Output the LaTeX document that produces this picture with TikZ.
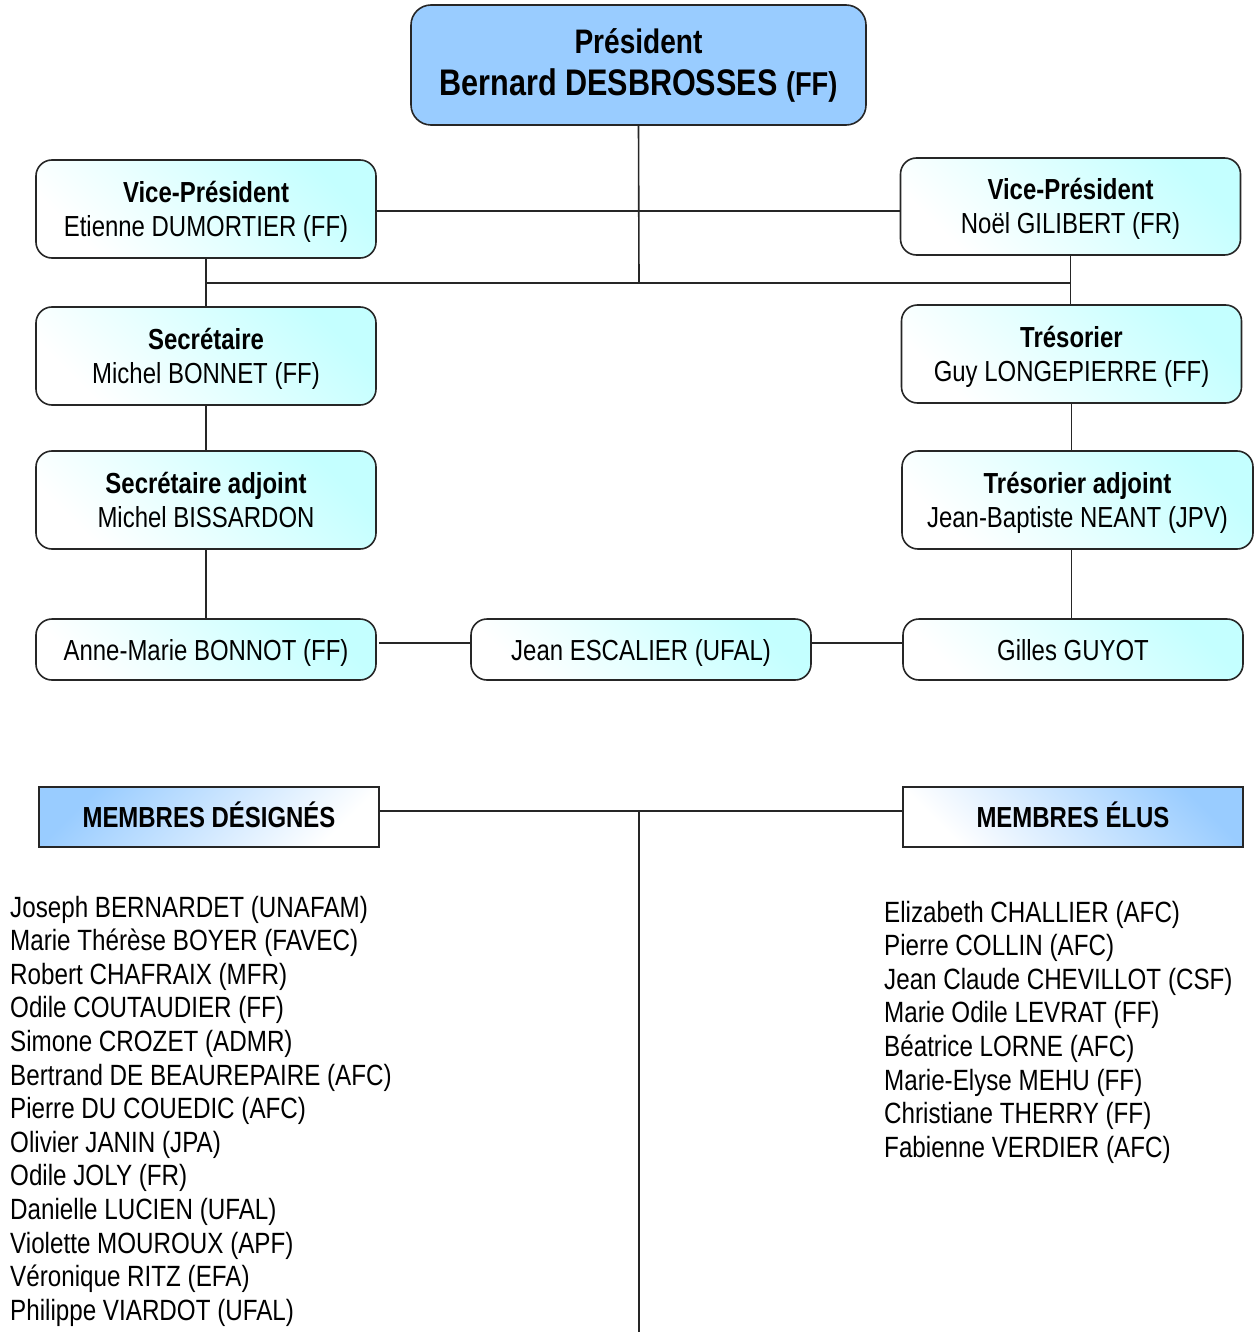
\documentclass[tikz,border=0pt]{standalone}
\usepackage{fontspec}
\setmainfont{Liberation Sans}[FakeStretch=0.826]
\definecolor{presblue}{HTML}{99CCFF}
\definecolor{lcyan}{HTML}{C4FFFF}
\definecolor{mblue}{HTML}{99CCFF}
\newcommand\twoline[2]{\vtop{\halign{\hfil##\hfil\cr\textbf{#1}\cr #2\cr}}}
\begin{document}
\begin{tikzpicture}[x=1pt,y=-1pt,
  box/.style={draw=black!85, line width=1.6pt, rounded corners=16pt, inner sep=0pt,
    minimum width=340pt, font=\fontsize{29}{34}\selectfont,
    top color=lcyan, bottom color=white, shading angle=-45},
  twobox/.style={box, minimum height=98pt, text height=21pt, text depth=34pt},
  onebox/.style={box, minimum height=61pt, text height=21pt, text depth=0pt},
  presbox/.style={draw=black!85, line width=1.6pt, rounded corners=20pt, inner sep=0pt,
    minimum width=455pt, minimum height=120pt, align=center, fill=presblue,
    font=\fontsize{37}{42}\selectfont\bfseries},
  mbox/.style={draw=black!85, line width=1.6pt, inner sep=0pt, minimum width=340pt,
    minimum height=60pt, font=\fontsize{29}{34}\selectfont\bfseries,
    text height=21pt, text depth=0pt, top color=mblue, bottom color=white},
  conn/.style={draw=black!85, line width=1.6pt},
  listtext/.style={anchor=base west, inner sep=0pt, font=\fontsize{29.3}{34}\selectfont}]
\useasboundingbox (0,0) rectangle (1254,1332);

\node[presbox] (pres) at (638.5,65) {{\fontsize{34}{42}\selectfont Président}\\Bernard DESBROSSES {\fontsize{33}{42}\selectfont (FF)}};

\node[twobox] (vpl) at (206,209) {\twoline{Vice-Président}{Etienne DUMORTIER (FF)}};
\node[twobox, minimum height=97pt] (vpr) at (1070.5,206.5) {\twoline{Vice-Président}{Noël GILIBERT (FR)}};
\node[twobox] (sec) at (206,356) {\twoline{Secrétaire}{Michel BONNET (FF)}};
\node[twobox] (tre) at (1071.5,354) {\twoline{Trésorier}{Guy LONGEPIERRE (FF)}};
\node[twobox] (seca) at (206,500) {\twoline{Secrétaire adjoint}{Michel BISSARDON}};
\node[twobox, minimum width=351pt] (trea) at (1077.5,500) {\twoline{Trésorier adjoint}{Jean-Baptiste NEANT (JPV)}};
\node[onebox] (am) at (206,649.5) {Anne-Marie BONNOT (FF)};
\node[onebox] (je) at (641,649.5) {Jean ESCALIER (UFAL)};
\node[onebox] (gg) at (1073,649.5) {Gilles GUYOT};
\node[mbox, shading angle=45] (md) at (209,817) {MEMBRES DÉSIGNÉS};
\node[mbox, shading angle=-45] (me) at (1073,817) {MEMBRES ÉLUS};

\coordinate (h1) at (639,211);
\coordinate (h2) at (639,283);
\coordinate (h3) at (639,643);
\coordinate (h4) at (639,811);
\coordinate (bot) at (639,1334);

\draw[conn] (pres.south) -- (h2);
\draw[conn] (vpl.east |- h1) -- (vpr.west |- h1);
\draw[conn] (vpl.south |- h2) -- (vpr.south |- h2);
\draw[conn] (vpl.south) -- (sec.north);
\draw[conn] (vpr.south) -- (vpr.south |- tre.north);
\draw[conn] (sec.south) -- (seca.north);
\draw[conn] (tre.south) -- (tre.south |- trea.north);
\draw[conn] (seca.south) -- (am.north);
\draw[conn] (tre.south |- trea.south) -- (tre.south |- gg.north);
\draw[conn] ([xshift=2pt]am.east |- h3) -- (je.west |- h3);
\draw[conn] (je.east |- h3) -- (gg.west |- h3);
\draw[conn] (md.east |- h4) -- (me.west |- h4);
\draw[conn] (h4) -- (bot);

\foreach \t [count=\i] in {Joseph BERNARDET (UNAFAM), Marie Thérèse BOYER (FAVEC), Robert CHAFRAIX (MFR), Odile COUTAUDIER (FF), Simone CROZET (ADMR), Bertrand DE BEAUREPAIRE (AFC), Pierre DU COUEDIC (AFC), Olivier JANIN (JPA), Odile JOLY (FR), Danielle LUCIEN (UFAL), Violette MOUROUX (APF), Véronique RITZ (EFA), Philippe VIARDOT (UFAL)}
  \node[listtext] (d\i) at (10,{917+33.6*(\i-1)}) {\t};

\foreach \t [count=\i] in {Elizabeth CHALLIER (AFC), Pierre COLLIN (AFC), Jean Claude CHEVILLOT (CSF), Marie Odile LEVRAT (FF), Béatrice LORNE (AFC), Marie-Elyse MEHU (FF), Christiane THERRY (FF), Fabienne VERDIER (AFC)}
  \node[listtext] (e\i) at (884,{922+33.6*(\i-1)}) {\t};
\end{tikzpicture}
\end{document}
